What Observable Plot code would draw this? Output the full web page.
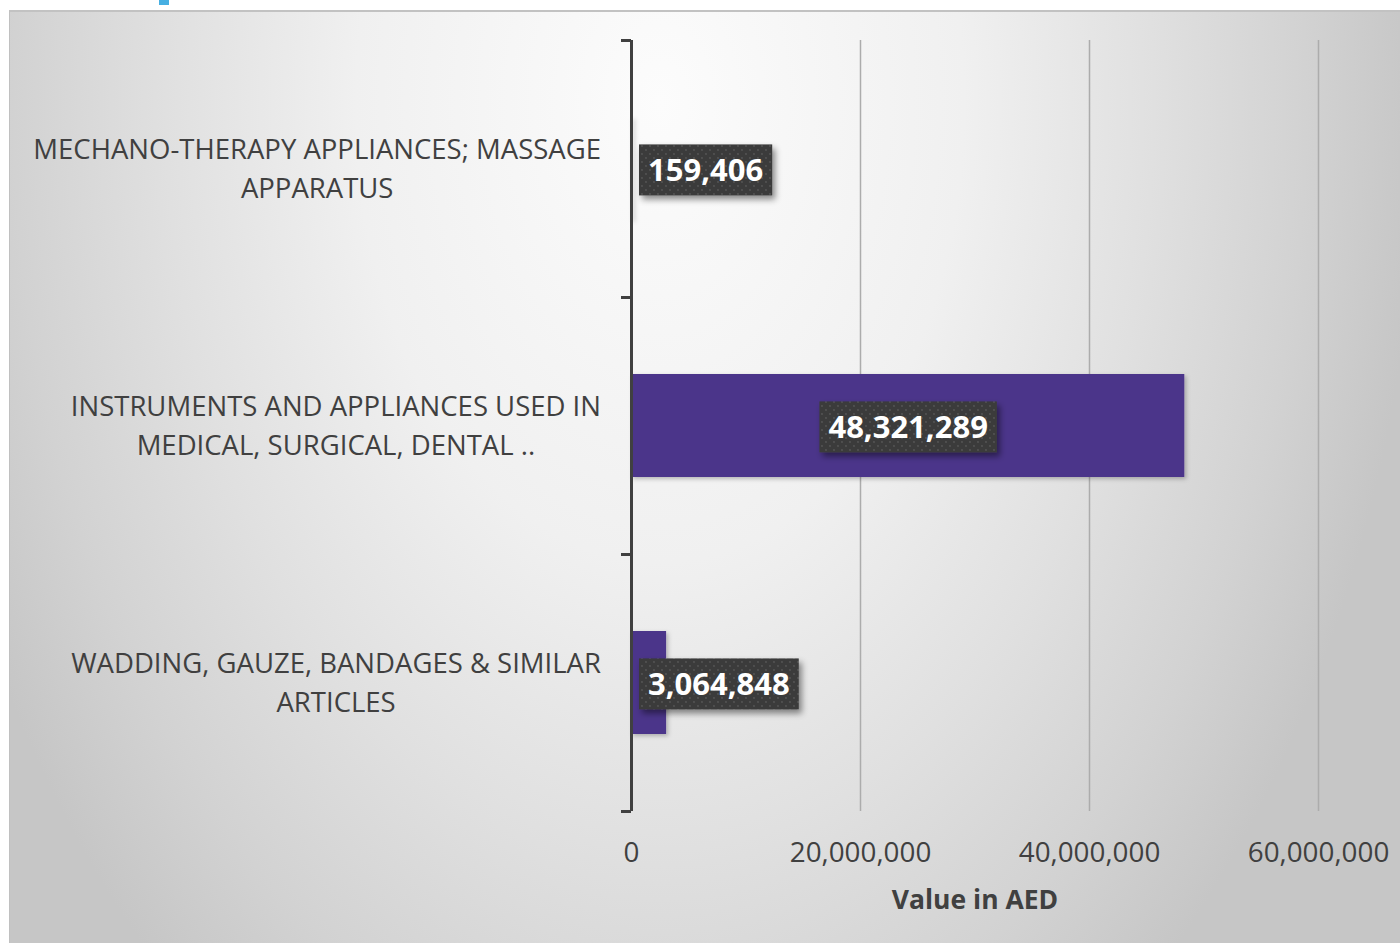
<!DOCTYPE html>
<html>
<head>
<meta charset="utf-8">
<script src="https://cdn.jsdelivr.net/npm/d3@7"></script>
<script src="https://cdn.jsdelivr.net/npm/@observablehq/plot@0.6"></script>
<style>
  html, body { margin: 0; padding: 0; background: #ffffff; }
  body { width: 1400px; height: 943px; position: relative; overflow: hidden; }
  #panel {
    position: absolute; left: 9px; top: 10px; width: 1391px; height: 933px;
    box-sizing: border-box;
    border-top: 2px solid #c2c2c2; border-left: 1px solid #c0c0c0;
    background: radial-gradient(ellipse 760px 1150px at 650px 90px, #fcfcfc 0%, #f0f0f0 40%, #e0e0e0 65%, #d2d2d2 85%, #c6c6c6 100%);
  }
  #blue { position: absolute; left: 159px; top: 0px; width: 10px; height: 5px; background: #47afe2; }
  #chart { position: absolute; left: 0; top: 0; }
</style>
</head>
<body>
<div id="panel"></div>
<div id="blue"></div>
<div id="chart"></div>
<script>
const categories = [
  "MECHANO-THERAPY APPLIANCES; MASSAGE APPARATUS",
  "INSTRUMENTS AND APPLIANCES USED IN MEDICAL, SURGICAL, DENTAL ..",
  "WADDING, GAUZE, BANDAGES & SIMILAR ARTICLES"
];
const categoryLabels = [
  "MECHANO-THERAPY APPLIANCES; MASSAGE\nAPPARATUS",
  "INSTRUMENTS AND APPLIANCES USED IN\nMEDICAL, SURGICAL, DENTAL ..",
  "WADDING, GAUZE, BANDAGES & SIMILAR\nARTICLES"
];
const values = [159406, 48321289, 3064848];
const xTicks = [0, 20000000, 40000000, 60000000];
const xTitle = "Value in AED";

const data = categories.map((c, i) => ({category: c, label: categoryLabels[i], value: values[i]}));
const fmt = d3.format(",");

const W = 1400, H = 943, mL = 631, mR = 82, mT = 40, mB = 132;
const step = (H - mT - mB) / categories.length;
const FONT = "'Open Sans', sans-serif";
const ink = "#404040";

const chart = Plot.plot({
  width: W, height: H,
  marginLeft: mL, marginRight: mR, marginTop: mT, marginBottom: mB,
  style: {background: "transparent", fontFamily: FONT, color: ink, overflow: "visible"},
  x: {domain: [0, 60000000], label: null},
  y: {domain: categories, paddingInner: 0.6, paddingOuter: 0.3, label: null},
  marks: [
    Plot.gridX(xTicks.slice(1), {stroke: "#acacac", strokeOpacity: 1, strokeWidth: 1.5}),
    Plot.barX(data, {x: "value", y: "category", fill: "#4b358a", className: "bars"}),
    Plot.axisX({ticks: xTicks, tickSize: 0, tickPadding: 31, fontSize: 27.8, tickFormat: fmt, label: null, fill: ink}),
    Plot.text([xTitle], {frameAnchor: "bottom", dy: 97, fontSize: 26.5, fontWeight: "bold", fill: ink}),
    Plot.ruleX([0], {stroke: ink, strokeWidth: 3}),
    Plot.axisY({tickSize: 10, stroke: ink, strokeWidth: 3, strokeOpacity: 1, text: null, dy: -step / 2, label: null}),
    Plot.axisY({ticks: [categories[categories.length - 1]], tickSize: 10, stroke: ink, strokeWidth: 3, strokeOpacity: 1, text: null, dy: step / 2, label: null}),
    Plot.text(data, {y: "category", text: "label", frameAnchor: "left", dx: -30, dy: -3, textAnchor: "middle", lineHeight: 1.42, fontSize: 27.5, fill: ink, className: "cat-label"}),
    Plot.text(data, {x: d => d.value / 2, y: "category", text: d => fmt(d.value), dy: 2, fill: "white", fontWeight: "bold", fontSize: 31, className: "val-label"})
  ]
});

document.getElementById("chart").appendChild(chart);

const svg = d3.select(chart);
const svgRect = chart.getBoundingClientRect();
const defs = svg.insert("defs", ":first-child");
const pat = defs.append("pattern").attr("id", "dots").attr("width", 8).attr("height", 8).attr("patternUnits", "userSpaceOnUse");
pat.append("rect").attr("width", 8).attr("height", 8).attr("fill", "#3b3b3b");
pat.append("circle").attr("cx", 2).attr("cy", 2).attr("r", 0.9).attr("fill", "#575757");
pat.append("circle").attr("cx", 6).attr("cy", 6).attr("r", 0.9).attr("fill", "#575757");
const f = defs.append("filter").attr("id", "shadow").attr("x", "-20%").attr("y", "-30%").attr("width", "150%").attr("height", "180%");
f.append("feDropShadow").attr("dx", 3).attr("dy", 4).attr("stdDeviation", 3).attr("flood-color", "#000").attr("flood-opacity", 0.45);
const f2 = defs.append("filter").attr("id", "barshadow").attr("x", "-5%").attr("y", "-10%").attr("width", "120%").attr("height", "130%");
f2.append("feDropShadow").attr("dx", 2).attr("dy", 2).attr("stdDeviation", 2).attr("flood-color", "#000").attr("flood-opacity", 0.25);
svg.select("g.bars").attr("filter", "url(#barshadow)");

// category labels: centered lines, block right-aligned against the axis
svg.selectAll("g.cat-label text").each(function () {
  const r = this.getBoundingClientRect();
  const right = r.right - svgRect.left;
  const shift = (mL - 30) - right;
  const t = this.getAttribute("transform") || "";
  this.setAttribute("transform", `translate(${shift},0) ` + t);
});

// value labels: dark boxes, kept inside the plot area
const valG = svg.select("g.val-label");
const boxG = svg.insert("g", () => valG.node()).attr("class", "val-boxes");
valG.selectAll("text").each(function () {
  const padX = 9, boxH = 51;
  let r = this.getBoundingClientRect();
  let left = r.left - svgRect.left;
  let shift = 0;
  if (left - padX < mL + 8) shift = (mL + 8) - (left - padX);
  const t = this.getAttribute("transform") || "";
  this.setAttribute("transform", `translate(${shift},0) ` + t);
  r = this.getBoundingClientRect();
  left = r.left - svgRect.left;
  const cy = (r.top + r.bottom) / 2 - svgRect.top + 1;
  boxG.append("rect")
    .attr("x", left - padX)
    .attr("y", cy - boxH / 2)
    .attr("width", r.width + 2 * padX)
    .attr("height", boxH)
    .attr("fill", "url(#dots)")
    .attr("filter", "url(#shadow)");
});
</script>
</body>
</html>
